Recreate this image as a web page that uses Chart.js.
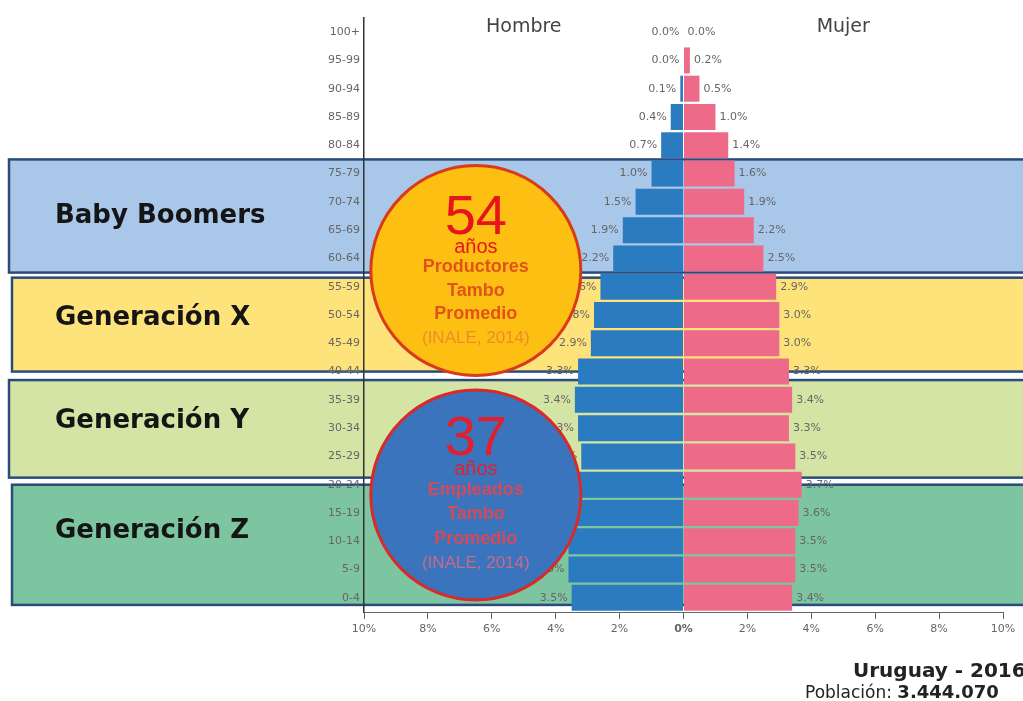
<!DOCTYPE html>
<html>
<head>
<meta charset="utf-8">
<script src="https://cdn.jsdelivr.net/npm/chart.js@4.4.0/dist/chart.umd.min.js"></script>
<style>
  html, body { margin: 0; padding: 0; background: #fff; }
  #wrap { width: 1023px; height: 701px; position: relative; }
</style>
</head>
<body>
<div id="wrap"><canvas id="pyramid"></canvas></div>
<script>
// grupos de edad, de arriba hacia abajo
let ageGroups = ['100+', '95-99', '90-94', '85-89', '80-84', '75-79', '70-74',
  '65-69', '60-64', '55-59', '50-54', '45-49', '40-44', '35-39', '30-34',
  '25-29', '20-24', '15-19', '10-14', '5-9', '0-4'];

// porcentaje de la poblacion total
let malePct = [0.0, 0.0, 0.1, 0.4, 0.7, 1.0, 1.5, 1.9, 2.2, 2.6, 2.8, 2.9,
  3.3, 3.4, 3.3, 3.2, 3.7, 3.6, 3.6, 3.6, 3.5];
let femalePct = [0.0, 0.2, 0.5, 1.0, 1.4, 1.6, 1.9, 2.2, 2.5, 2.9, 3.0, 3.0,
  3.3, 3.4, 3.3, 3.5, 3.7, 3.6, 3.5, 3.5, 3.4];

let xTicks = [-10, -8, -6, -4, -2, 0, 2, 4, 6, 8, 10];

// generaciones superpuestas
let generations = ['Baby Boomers', 'Generación X', 'Generación Y', 'Generación Z'];
let generationFrom = ['75-79', '55-59', '40-44', '20-24'];
let generationTo = ['60-64', '40-44', '20-24', '0-4'];

// circulos de edad promedio
let avgAges = ['54', '37'];
let avgGroups = [['Productores', 'Tambo', 'Promedio'], ['Empleados', 'Tambo', 'Promedio']];
let avgSource = '(INALE, 2014)';

let countryTitle = 'Uruguay - 2016';
let populationText = '3.444.070';

const MALE_COLOR = '#2a7bbf';
const FEMALE_COLOR = '#ee6a89';
const FONT = '"DejaVu Sans", sans-serif';

const bandStyles = [
  { fill: '#a9c7e9', top: -0.5, bottom: 0.5, left: 9, labelAt: 6.5 },
  { fill: '#fee37b', top: -0.32, bottom: 0, left: 12, labelAt: 10.1 },
  { fill: '#d4e4a5', top: 0.3, bottom: -0.25, left: 9, labelAt: 13.75 },
  { fill: '#7dc4a1', top: 0, bottom: 0.25, left: 12, labelAt: 17.63 }
];

const circleStyles = [
  { x: -6.5, y: 8.43, r: 105, fill: '#fdbf12', stroke: '#d83a1c',
    numColor: '#e8141c', lineColor: '#e2531a', srcColor: '#ee8c2c',
    offs: [-52, -23, -4, 20, 43, 68] },
  { x: -6.5, y: 16.36, r: 105, fill: '#3a74bd', stroke: '#d92a2a',
    numColor: '#e0202c', lineColor: '#d44a5a', srcColor: '#c96a86',
    offs: [-55, -25, -5, 19, 44, 68] }
];

const bandsPlugin = {
  id: 'bands',
  beforeDraw(chart) {
    const ctx = chart.ctx;
    const y = chart.scales.y;
    ctx.save();
    generations.forEach((name, i) => {
      const st = bandStyles[i];
      const top = y.getPixelForValue(ageGroups.indexOf(generationFrom[i]) + st.top);
      const bottom = y.getPixelForValue(ageGroups.indexOf(generationTo[i]) + st.bottom);
      ctx.fillStyle = st.fill;
      ctx.fillRect(st.left, top, 1040 - st.left, bottom - top);
      ctx.strokeStyle = '#2b4b7a';
      ctx.lineWidth = 2.5;
      ctx.strokeRect(st.left, top, 1040 - st.left, bottom - top);
      ctx.fillStyle = '#151515';
      ctx.font = 'bold 26px ' + FONT;
      ctx.textAlign = 'left';
      ctx.textBaseline = 'middle';
      ctx.fillText(name, 55, y.getPixelForValue(st.labelAt));
    });
    ctx.restore();
  }
};

const valueLabelsPlugin = {
  id: 'valueLabels',
  afterDatasetsDraw(chart) {
    const ctx = chart.ctx;
    ctx.save();
    ctx.font = '11px ' + FONT;
    ctx.fillStyle = '#666';
    ctx.textBaseline = 'middle';
    chart.getDatasetMeta(0).data.forEach((bar, i) => {
      ctx.textAlign = 'right';
      ctx.fillText(malePct[i].toFixed(1) + '%', bar.x - 4, bar.y);
    });
    chart.getDatasetMeta(1).data.forEach((bar, i) => {
      ctx.textAlign = 'left';
      ctx.fillText(femalePct[i].toFixed(1) + '%', bar.x + 4, bar.y);
    });
    ctx.restore();
  }
};

const overlayPlugin = {
  id: 'overlay',
  afterDraw(chart) {
    const ctx = chart.ctx;
    const xs = chart.scales.x;
    const ys = chart.scales.y;
    ctx.save();

    // encabezados
    ctx.font = '19px ' + FONT;
    ctx.fillStyle = '#444';
    ctx.textAlign = 'center';
    ctx.textBaseline = 'middle';
    ctx.fillText('Hombre', xs.getPixelForValue(-5), 27);
    ctx.fillText('Mujer', xs.getPixelForValue(5), 27);

    // circulos
    circleStyles.forEach((st, i) => {
      const cx = xs.getPixelForValue(st.x);
      const cy = ys.getPixelForValue(st.y);
      ctx.beginPath();
      ctx.arc(cx, cy, st.r, 0, Math.PI * 2);
      ctx.fillStyle = st.fill;
      ctx.fill();
      ctx.lineWidth = 3;
      ctx.strokeStyle = st.stroke;
      ctx.stroke();

      ctx.textAlign = 'center';
      ctx.textBaseline = 'middle';
      ctx.fillStyle = st.numColor;
      ctx.font = '56px "Liberation Sans", Arial, sans-serif';
      ctx.fillText(avgAges[i], cx, cy + st.offs[0]);
      ctx.font = '20px "Liberation Sans", Arial, sans-serif';
      ctx.fillText('años', cx, cy + st.offs[1]);
      ctx.fillStyle = st.lineColor;
      ctx.font = 'bold 18px "Liberation Sans", Arial, sans-serif';
      avgGroups[i].forEach((t, k) => ctx.fillText(t, cx, cy + st.offs[2 + k]));
      ctx.fillStyle = st.srcColor;
      ctx.font = '17px "Liberation Sans", Arial, sans-serif';
      ctx.fillText(avgSource, cx, cy + st.offs[5]);
    });

    // titulo abajo a la derecha
    ctx.textAlign = 'left';
    ctx.textBaseline = 'alphabetic';
    ctx.fillStyle = '#222';
    ctx.font = 'bold 20px ' + FONT;
    ctx.fillText(countryTitle, 853, 677);
    ctx.font = '17px ' + FONT;
    ctx.fillText('Población: ', 805, 698);
    const w = ctx.measureText('Población: ').width;
    ctx.font = 'bold 18px ' + FONT;
    ctx.fillText(populationText, 805 + w, 698);
    ctx.restore();
  }
};

new Chart(document.getElementById('pyramid').getContext('2d'), {
  type: 'bar',
  data: {
    labels: ageGroups,
    datasets: [{
      label: 'Hombre',
      data: malePct.map(v => -v),
      backgroundColor: MALE_COLOR,
      barPercentage: 0.92,
      categoryPercentage: 1
    }, {
      label: 'Mujer',
      data: femalePct,
      backgroundColor: FEMALE_COLOR,
      barPercentage: 0.92,
      categoryPercentage: 1
    }]
  },
  options: {
    indexAxis: 'y',
    responsive: true,
    maintainAspectRatio: false,
    animation: false,
    layout: { padding: { left: 0, right: 20, top: 18, bottom: 61 } },
    plugins: { legend: { display: false }, tooltip: { enabled: false } },
    scales: {
      x: {
        stacked: true,
        min: -10,
        max: 10,
        afterBuildTicks(scale) { scale.ticks = xTicks.map(v => ({ value: v })); },
        afterFit(scale) { scale.height = 28; },
        grid: { drawOnChartArea: false, tickLength: 7, color: '#666' },
        border: { color: '#666', width: 1 },
        ticks: {
          padding: 4,
          color: '#666',
          font: (c) => ({ size: 11, family: FONT, weight: c.tick && c.tick.value === 0 ? 'bold' : 'normal' }),
          callback: (v) => Math.abs(v) + '%'
        }
      },
      y: {
        stacked: true,
        afterFit(scale) { scale.width = 364; },
        grid: { drawOnChartArea: false, drawTicks: false },
        border: { color: '#333', width: 1.5 },
        ticks: { padding: 4, color: '#666', font: { size: 11, family: FONT } }
      }
    }
  },
  plugins: [bandsPlugin, valueLabelsPlugin, overlayPlugin]
});
</script>
</body>
</html>
